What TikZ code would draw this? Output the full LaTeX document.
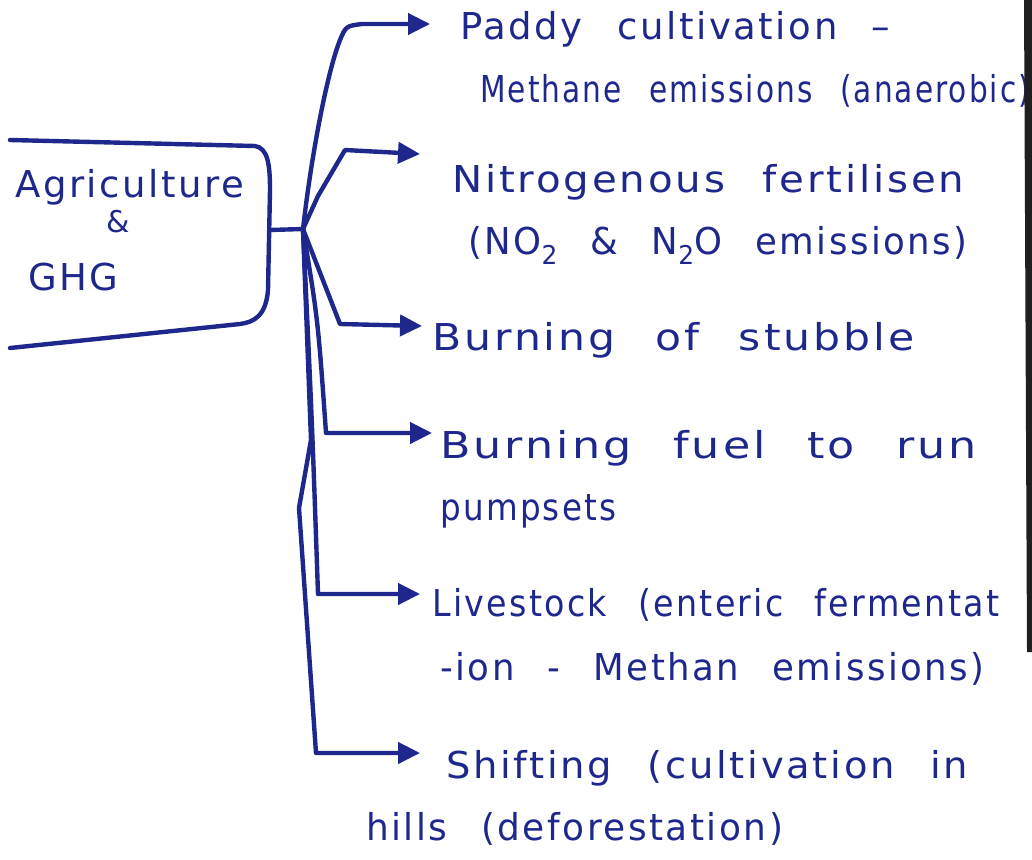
\documentclass[tikz,border=0pt]{standalone}
\usepackage{graphicx}
\usepackage{fontspec}
\setmainfont{DejaVu Sans}[LetterSpace=7,WordSpace=2.4]
\usetikzlibrary{arrows.meta}
\definecolor{ink}{RGB}{30,40,140}
% horizontal stretch of a handwritten line
\newcommand{\hstretch}[2]{\scalebox{#1}[1]{#2}}
\begin{document}
\begin{tikzpicture}[x=1pt,y=-1pt,
  pen/.style={draw=ink,line width=4.4pt,line cap=round,line join=round},
  branch/.style={pen,-{Triangle[length=22pt,width=21pt]}},
  hand/.style={text=ink,font=\fontsize{37}{44}\selectfont,anchor=base west,inner sep=0pt},
  small/.style={text=ink,font=\fontsize{30}{34}\selectfont,inner sep=0pt}]
\useasboundingbox (0,0) rectangle (1032,859);
\fill[white] (0,0) rectangle (1032,859);

% open-sided box on the left
\draw[pen] (10,140) -- (255,146) .. controls (268,148) and (270,165) .. (270,190)
  -- (268,290) .. controls (266,315) and (255,322) .. (240,324) -- (10,348);
\node[hand] (agri) at (15,197) {Agriculture};
\node[small] (amp) at (118,222) {\&};
\node[hand] (ghg) at (28,290) {GHG};

% branch point and arrow ends
\coordinate (boxout) at (270,230);
\coordinate (j) at (303,229);
\coordinate (t1) at (430,24);
\coordinate (t2) at (420,154);
\coordinate (t3) at (422,326);
\coordinate (t4) at (432,433);
\coordinate (t5) at (420,594);
\coordinate (t6) at (420,753);

% labels
\node[hand] (l1a) at (460,40) {Paddy cultivation –};
\node[hand] (l1b) at (480,102) {\hstretch{0.8}{Methane emissions (anaerobic)}};
\node[hand] (l2a) at (452,192) {\hstretch{1.09}{Nitrogenous fertilisen}};
\node[hand] (l2b) at (468,254) {\hstretch{0.96}{(NO\textsubscript{2} \& N\textsubscript{2}O emissions)}};
\node[hand] (l3) at (432,350) {\hstretch{1.15}{Burning of stubble}};
\node[hand] (l4a) at (440,458) {\hstretch{1.2}{Burning fuel to run}};
\node[hand] (l4b) at (440,520) {\hstretch{0.88}{pumpsets}};
\node[hand] (l5a) at (432,616) {\hstretch{0.9}{Livestock (enteric fermentat}};
\node[hand] (l5b) at (440,680) {\hstretch{0.96}{-ion - Methan emissions)}};
\node[hand] (l6a) at (446,778) {\hstretch{1.04}{Shifting (cultivation in}};
\node[hand] (l6b) at (366,840) {\hstretch{0.97}{hills (deforestation)}};

% connectors
\draw[pen] (boxout) -- (j);
\draw[branch] (j) .. controls (312,150) and (328,70) .. (340,40)
  .. controls (346,26) .. (362,24) -- (t1);
\draw[branch] (j) -- (318,196) -- (345,150) -- (t2);
\draw[branch] (j) -- (340,324) -- (t3);
\draw[branch] (j) .. controls (318,320) .. (326,433) -- (t4);
\draw[branch] (j) .. controls (312,420) .. (318,594) -- (t5);
\draw[branch] (j) -- (311,440) -- (299,508) -- (316,753) -- (t6);

% dark strip along the right edge of the sheet
\fill[black!88] (1024,0) -- (1032,0) -- (1032,652) -- (1027,652) -- cycle;
\end{tikzpicture}
\end{document}
